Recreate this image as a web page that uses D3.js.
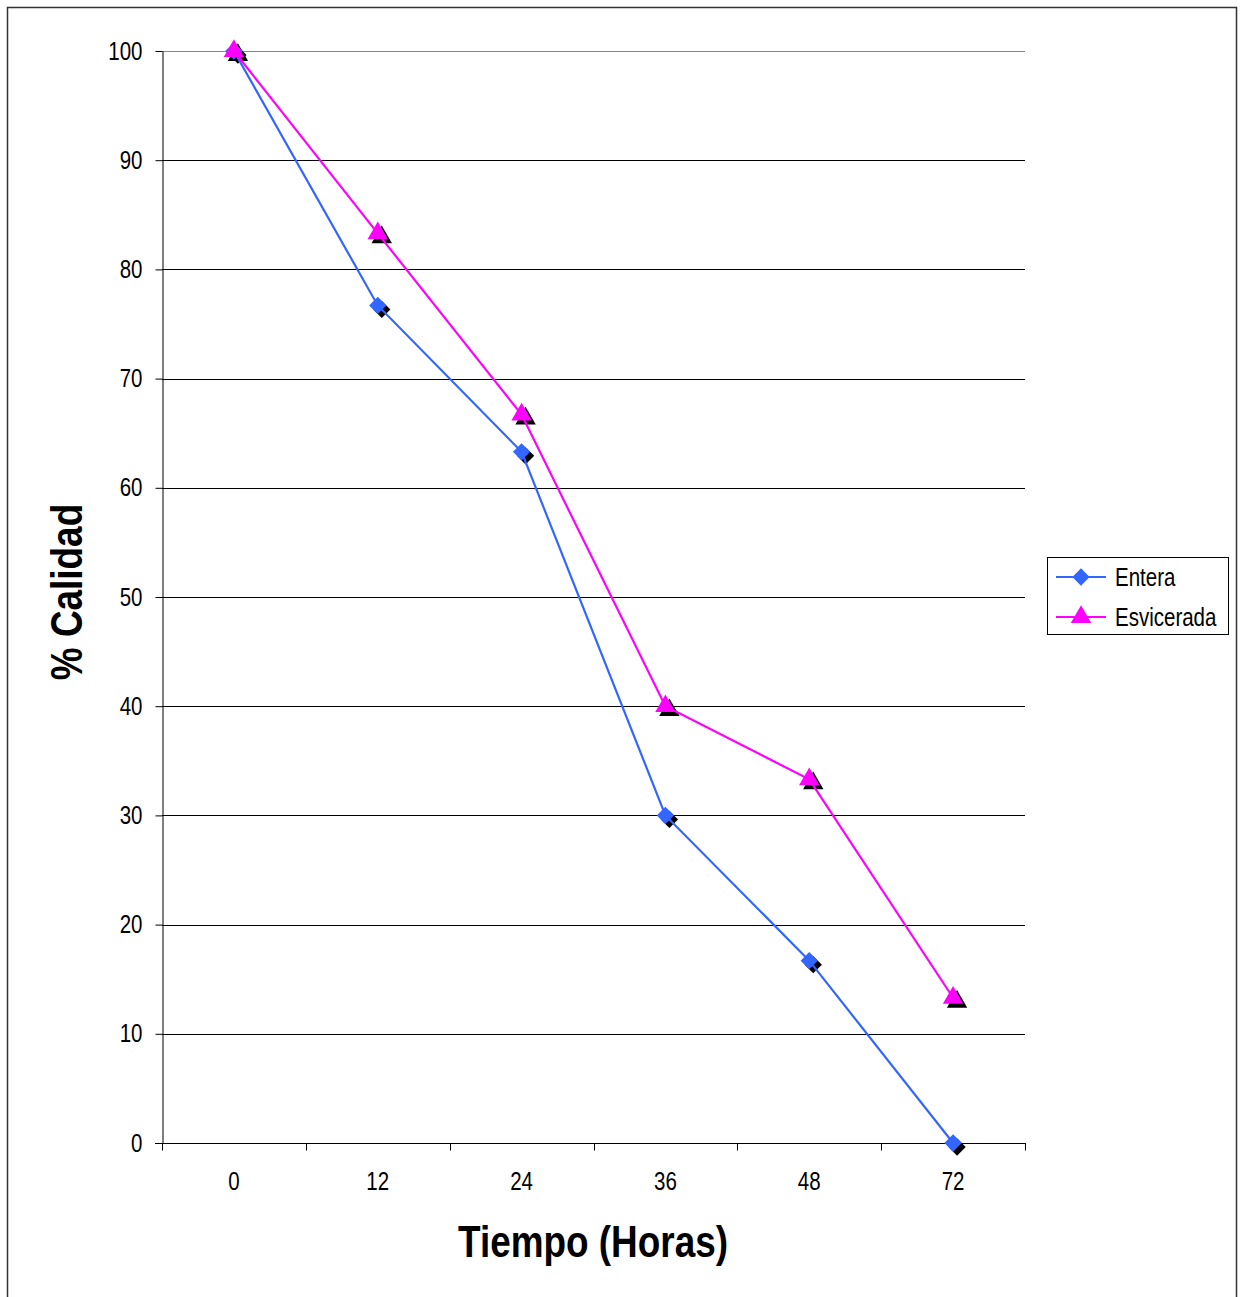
<!DOCTYPE html>
<html>
<head>
  <meta charset="UTF-8">
  <title>Calidad vs Tiempo</title>
  <script src="https://d3js.org/d3.v7.min.js"></script>
  <style>
    body { margin: 0; background: #fff; }
    text { font-family: "Liberation Sans", Arial, sans-serif; }
  </style>
</head>
<body>
<svg width="1241" height="1297"></svg>
<script>
var categories = ["0", "12", "24", "36", "48", "72"]
var entera = [100, 76.7, 63.3, 30, 16.7, 0]
var esvicerada = [100, 83.3, 66.7, 40, 33.3, 13.3]
var yTicks = [0, 10, 20, 30, 40, 50, 60, 70, 80, 90, 100]

var svg = d3.select("svg")
var plotL = 162, plotR = 1025, plotT = 51, plotB = 1143

// squeeze text horizontally, imitating a narrow font
function narrow(sel) {
  sel.each(function() {
    var w = this.getComputedTextLength()
    d3.select(this).attr("textLength", w * 0.82).attr("lengthAdjust", "spacingAndGlyphs")
  })
}

// outer frame
svg.append("rect")
  .attr("x", 7.5).attr("y", 7.5)
  .attr("width", 1229).attr("height", 1310)
  .attr("fill", "none").attr("stroke", "#333").attr("stroke-width", 1.5)

var x = d3.scaleBand().domain(categories).range([plotL, plotR])
var y = d3.scaleLinear().domain([0, 100]).range([plotB, plotT])
var cx = function(i) { return x(categories[i]) + x.bandwidth() / 2 }

// gridlines
svg.append("g")
  .selectAll("line").data(yTicks.filter(function(d) { return d > 0 }))
  .enter().append("line")
  .attr("x1", plotL).attr("x2", plotR)
  .attr("y1", function(d) { return Math.round(y(d)) + 0.5 })
  .attr("y2", function(d) { return Math.round(y(d)) + 0.5 })
  .attr("stroke", function(d) { return d == 100 ? "#888" : "#000" })

// y axis
var yAxis = svg.append("g")
  .attr("transform", "translate(" + (plotL + 0.5) + ",0)")
  .call(d3.axisLeft(y).tickValues(yTicks).tickSize(7).tickPadding(13).tickSizeOuter(0))
yAxis.select(".domain").attr("stroke", "#000")
yAxis.selectAll("line").attr("stroke", "#000")
yAxis.selectAll("text").attr("font-size", 25).attr("fill", "#000")
  .attr("font-family", "'Liberation Sans', Arial, sans-serif")
  .call(narrow)

// x axis: labels centred in bands, ticks at band edges
var xAxis = svg.append("g")
  .attr("transform", "translate(0," + (plotB + 0.5) + ")")
xAxis.append("line").attr("x1", plotL - 7).attr("x2", plotR + 1)
  .attr("y1", 0).attr("y2", 0).attr("stroke", "#000")
var edges = categories.map(function(c) { return x(c) }).concat([plotR])
xAxis.selectAll(".tk").data(edges).enter().append("line")
  .attr("class", "tk")
  .attr("x1", function(d) { return Math.round(d) + 0.5 })
  .attr("x2", function(d) { return Math.round(d) + 0.5 })
  .attr("y1", 0).attr("y2", 7).attr("stroke", "#000")
xAxis.selectAll(".lbl").data(categories).enter().append("text")
  .attr("class", "lbl")
  .attr("x", function(d, i) { return cx(i) })
  .attr("y", 46)
  .attr("text-anchor", "middle")
  .attr("font-size", 25)
  .text(function(d) { return d })
  .call(narrow)

// axis titles
svg.append("text")
  .attr("transform", "translate(82,592) rotate(-90)")
  .attr("text-anchor", "middle")
  .attr("font-size", 45).attr("font-weight", "bold")
  .text("% Calidad")
  .call(narrow)
svg.append("text")
  .attr("x", 593).attr("y", 1257)
  .attr("text-anchor", "middle")
  .attr("font-size", 45).attr("font-weight", "bold")
  .text("Tiempo (Horas)")
  .call(narrow)

var diamond = d3.symbol().type(d3.symbolDiamond2).size(190)
var triangle = d3.symbol().type(d3.symbolTriangle).size(180)

var series = [
  { name: "Entera", values: entera, color: "#3366FF", shape: diamond },
  { name: "Esvicerada", values: esvicerada, color: "#FF00FF", shape: triangle }
]

var line = d3.line()
  .x(function(d, i) { return cx(i) })
  .y(function(d) { return y(d) })

// marker shadows go underneath everything
series.forEach(function(s) {
  svg.append("g").selectAll("path").data(s.values).enter().append("path")
    .attr("d", s.shape)
    .attr("transform", function(d, i) { return "translate(" + (cx(i) + 4) + "," + (y(d) + 4) + ")" })
    .attr("fill", "#000")
})

series.forEach(function(s) {
  svg.append("path").datum(s.values)
    .attr("d", line)
    .attr("fill", "none").attr("stroke", s.color).attr("stroke-width", 2.2)
  svg.append("g").selectAll("path").data(s.values).enter().append("path")
    .attr("d", s.shape)
    .attr("transform", function(d, i) { return "translate(" + cx(i) + "," + y(d) + ")" })
    .attr("fill", s.color)
})

// legend
var legend = svg.append("g").attr("transform", "translate(1047,557)")
legend.append("rect").attr("x", 0.5).attr("y", 0.5)
  .attr("width", 181).attr("height", 77)
  .attr("fill", "#fff").attr("stroke", "#000")
series.forEach(function(s, i) {
  var ly = 20 + i * 40
  legend.append("line").attr("x1", 9).attr("x2", 59)
    .attr("y1", ly).attr("y2", ly)
    .attr("stroke", s.color).attr("stroke-width", 2.2)
  legend.append("path").attr("d", s.shape)
    .attr("transform", "translate(34," + ly + ")")
    .attr("fill", s.color)
  legend.append("text").attr("x", 68).attr("y", ly + 9)
    .attr("font-size", 25).text(s.name)
    .call(narrow)
})
</script>
</body>
</html>
